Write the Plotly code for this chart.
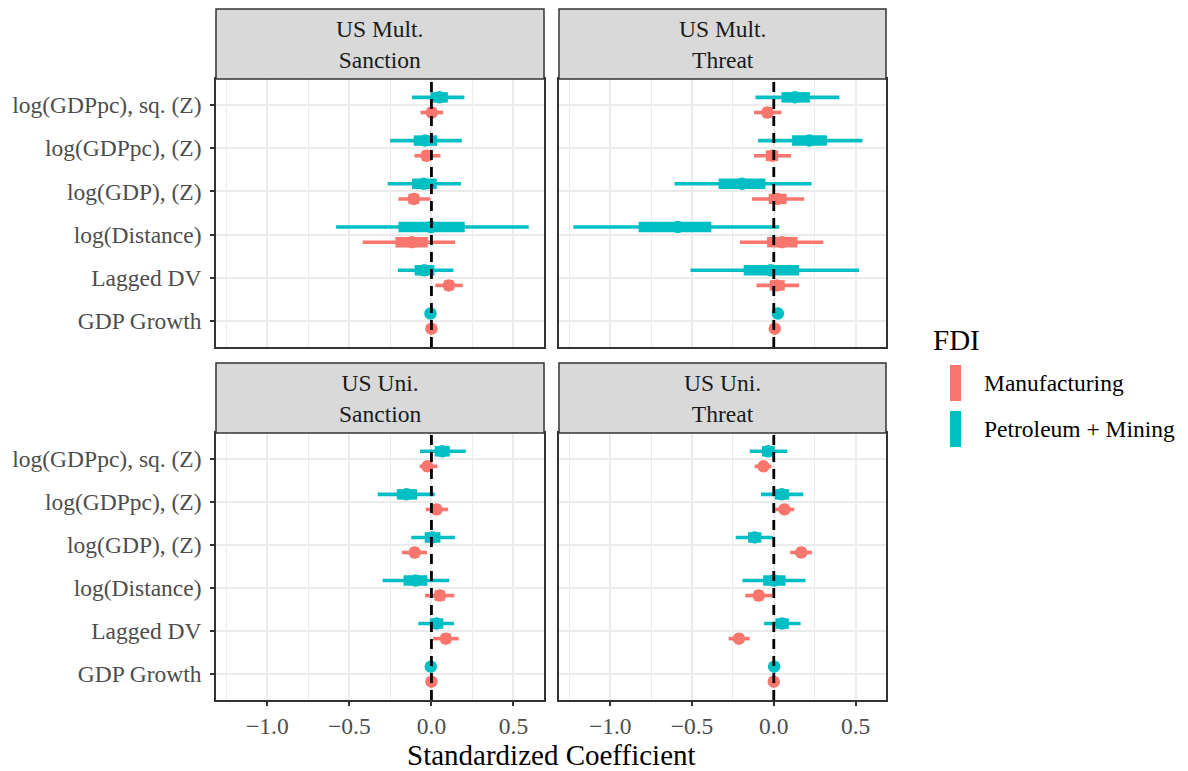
import plotly.graph_objects as go
from plotly.subplots import make_subplots

# Coefficient categories, listed bottom to top
CATEGORIES = ["GDP Growth", "Lagged DV", "log(Distance)",
              "log(GDP), (Z)", "log(GDPpc), (Z)", "log(GDPpc), sq. (Z)"]

FACETS = ["US Mult.<br>Sanction", "US Mult.<br>Threat",
          "US Uni.<br>Sanction", "US Uni.<br>Threat"]

SERIES = ["Manufacturing", "Petroleum + Mining"]

# ---- US Mult. Sanction ----
mult_sanc_petro_est = [-0.006, -0.043, -0.002, -0.047, -0.039, 0.049]
mult_sanc_petro_lo95 = [-0.012, -0.205, -0.581, -0.267, -0.252, -0.118]
mult_sanc_petro_hi95 = [0.000, 0.134, 0.593, 0.180, 0.185, 0.201]
mult_sanc_petro_lo50 = [-0.009, -0.102, -0.201, -0.118, -0.108, -0.006]
mult_sanc_petro_hi50 = [-0.003, 0.018, 0.203, 0.032, 0.035, 0.100]

mult_sanc_manu_est = [0.000, 0.106, -0.120, -0.108, -0.030, 0.002]
mult_sanc_manu_lo95 = [-0.005, 0.024, -0.419, -0.201, -0.104, -0.067]
mult_sanc_manu_hi95 = [0.005, 0.191, 0.144, -0.006, 0.055, 0.071]
mult_sanc_manu_lo50 = [-0.002, 0.078, -0.220, -0.140, -0.057, -0.022]
mult_sanc_manu_hi50 = [0.002, 0.135, -0.022, -0.075, 0.000, 0.026]

# ---- US Mult. Threat ----
mult_thr_petro_est = [0.025, -0.018, -0.587, -0.194, 0.217, 0.129]
mult_thr_petro_lo95 = [0.005, -0.509, -1.225, -0.607, -0.096, -0.112]
mult_thr_petro_hi95 = [0.045, 0.521, 0.033, 0.231, 0.542, 0.401]
mult_thr_petro_lo50 = [0.018, -0.184, -0.826, -0.337, 0.112, 0.047]
mult_thr_petro_hi50 = [0.032, 0.155, -0.382, -0.051, 0.325, 0.221]

mult_thr_manu_est = [0.006, 0.020, 0.051, 0.022, -0.010, -0.039]
mult_thr_manu_lo95 = [0.000, -0.106, -0.207, -0.133, -0.121, -0.121]
mult_thr_manu_hi95 = [0.012, 0.155, 0.303, 0.186, 0.106, 0.047]
mult_thr_manu_lo50 = [0.003, -0.025, -0.041, -0.031, -0.049, -0.067]
mult_thr_manu_hi50 = [0.009, 0.067, 0.145, 0.078, 0.027, -0.010]

# ---- US Uni. Sanction ----
uni_sanc_petro_est = [-0.004, 0.031, -0.096, 0.006, -0.151, 0.067]
uni_sanc_petro_lo95 = [-0.008, -0.080, -0.297, -0.123, -0.327, -0.070]
uni_sanc_petro_hi95 = [0.000, 0.137, 0.108, 0.143, 0.020, 0.209]
uni_sanc_petro_lo50 = [-0.006, -0.010, -0.170, -0.041, -0.211, 0.020]
uni_sanc_petro_hi50 = [-0.002, 0.072, -0.025, 0.055, -0.088, 0.112]

uni_sanc_manu_est = [0.000, 0.088, 0.051, -0.102, 0.031, -0.025]
uni_sanc_manu_lo95 = [-0.003, 0.010, -0.039, -0.180, -0.035, -0.072]
uni_sanc_manu_hi95 = [0.003, 0.166, 0.139, -0.027, 0.102, 0.037]
uni_sanc_manu_lo50 = [-0.001, 0.061, 0.020, -0.128, 0.008, -0.046]
uni_sanc_manu_hi50 = [0.001, 0.115, 0.082, -0.076, 0.054, -0.004]

# ---- US Uni. Threat ----
uni_thr_petro_est = [0.002, 0.051, 0.002, -0.117, 0.049, -0.035]
uni_thr_petro_lo95 = [-0.002, -0.059, -0.192, -0.233, -0.078, -0.147]
uni_thr_petro_hi95 = [0.006, 0.164, 0.194, -0.004, 0.180, 0.082]
uni_thr_petro_lo50 = [0.000, 0.010, -0.065, -0.157, 0.006, -0.072]
uni_thr_petro_hi50 = [0.004, 0.092, 0.072, -0.076, 0.094, 0.006]

uni_thr_manu_est = [0.000, -0.213, -0.092, 0.168, 0.065, -0.063]
uni_thr_manu_lo95 = [-0.003, -0.276, -0.174, 0.100, 0.008, -0.117]
uni_thr_manu_hi95 = [0.003, -0.147, -0.010, 0.233, 0.125, -0.014]
uni_thr_manu_lo50 = [-0.001, -0.235, -0.120, 0.145, 0.045, -0.082]
uni_thr_manu_hi50 = [0.001, -0.190, -0.064, 0.190, 0.085, -0.046]

X_TICKS = [-1.0, -0.5, 0.0, 0.5]
X_TICK_TEXT = ["\u22121.0", "\u22120.5", "0.0", "0.5"]

# ---- styling ----
COLORS = {"Manufacturing": "#F8766D", "Petroleum + Mining": "#00BFC4"}
DODGE = {"Manufacturing": -0.175, "Petroleum + Mining": 0.175}
FONT = "Liberation Serif"
W, H = 1188, 771

panel_data = [
    {"Manufacturing": (mult_sanc_manu_est, mult_sanc_manu_lo95, mult_sanc_manu_hi95, mult_sanc_manu_lo50, mult_sanc_manu_hi50),
     "Petroleum + Mining": (mult_sanc_petro_est, mult_sanc_petro_lo95, mult_sanc_petro_hi95, mult_sanc_petro_lo50, mult_sanc_petro_hi50)},
    {"Manufacturing": (mult_thr_manu_est, mult_thr_manu_lo95, mult_thr_manu_hi95, mult_thr_manu_lo50, mult_thr_manu_hi50),
     "Petroleum + Mining": (mult_thr_petro_est, mult_thr_petro_lo95, mult_thr_petro_hi95, mult_thr_petro_lo50, mult_thr_petro_hi50)},
    {"Manufacturing": (uni_sanc_manu_est, uni_sanc_manu_lo95, uni_sanc_manu_hi95, uni_sanc_manu_lo50, uni_sanc_manu_hi50),
     "Petroleum + Mining": (uni_sanc_petro_est, uni_sanc_petro_lo95, uni_sanc_petro_hi95, uni_sanc_petro_lo50, uni_sanc_petro_hi50)},
    {"Manufacturing": (uni_thr_manu_est, uni_thr_manu_lo95, uni_thr_manu_hi95, uni_thr_manu_lo50, uni_thr_manu_hi50),
     "Petroleum + Mining": (uni_thr_petro_est, uni_thr_petro_lo95, uni_thr_petro_hi95, uni_thr_petro_lo50, uni_thr_petro_hi50)},
]

# panel pixel boxes (left, right) / (top, bottom)
COL_X = [(216, 544), (559, 886)]
ROW_Y = [(79, 347), (433, 700)]
STRIP_H = 70


def px_x(v):
    return v / W


def px_y(v):
    return 1 - v / H


fig = make_subplots(rows=2, cols=2)

for i, pdata in enumerate(panel_data):
    r, c = divmod(i, 2)
    for s in SERIES:
        est, lo95, hi95, lo50, hi50 = pdata[s]
        ypos = [k + 1 + DODGE[s] for k in range(len(CATEGORIES))]
        thin_x, thin_y, thick_x, thick_y = [], [], [], []
        for k in range(len(CATEGORIES)):
            thin_x += [lo95[k], hi95[k], None]
            thin_y += [ypos[k], ypos[k], None]
            thick_x += [lo50[k], hi50[k], None]
            thick_y += [ypos[k], ypos[k], None]
        col = COLORS[s]
        fig.add_trace(go.Scatter(x=thin_x, y=thin_y, mode="lines",
                                 line=dict(color=col, width=3.6),
                                 showlegend=False, hoverinfo="skip"),
                      row=r + 1, col=c + 1)
        fig.add_trace(go.Scatter(x=thick_x, y=thick_y, mode="lines",
                                 line=dict(color=col, width=10.5),
                                 showlegend=False, hoverinfo="skip"),
                      row=r + 1, col=c + 1)
        fig.add_trace(go.Scatter(x=est, y=ypos, mode="markers",
                                 marker=dict(color=col, size=12.5,
                                             line=dict(width=0)),
                                 name=s, showlegend=False,
                                 text=CATEGORIES,
                                 hovertemplate="%{text}: %{x:.3f}<extra>" + s + "</extra>"),
                      row=r + 1, col=c + 1)

tick_font = dict(family=FONT, size=23.5, color="#4D4D4D")
axis_common = dict(showline=True, mirror=True, linecolor="#333333",
                   linewidth=1.5, zeroline=False, showgrid=True,
                   gridcolor="#EBEBEB", gridwidth=1.6, automargin=False)

shapes = []
annotations = []

for i in range(4):
    r, c = divmod(i, 2)
    suffix = "" if i == 0 else str(i + 1)
    x0, x1 = COL_X[c]
    y0, y1 = ROW_Y[r]
    xa = dict(axis_common,
              domain=[px_x(x0), px_x(x1)],
              range=[-1.313, 0.686],
              tickvals=X_TICKS, ticktext=X_TICK_TEXT,
              minor=dict(tickvals=[-1.25, -0.75, -0.25, 0.25], showgrid=True,
                         gridcolor="#EBEBEB", gridwidth=0.8, ticklen=0))
    if r == 1:
        xa.update(ticks="outside", ticklen=4, tickwidth=1.5,
                  tickcolor="#333333", showticklabels=True, tickfont=tick_font)
    else:
        xa.update(ticks="", showticklabels=False)
    ya = dict(axis_common,
              domain=[px_y(y1), px_y(y0)],
              range=[0.4, 6.6],
              tickvals=list(range(1, len(CATEGORIES) + 1)),
              ticktext=CATEGORIES)
    if c == 0:
        ya.update(ticks="outside", ticklen=4, tickwidth=1.5,
                  tickcolor="#333333", showticklabels=True, tickfont=tick_font,
                  ticklabelstandoff=4)
    else:
        ya.update(ticks="", showticklabels=False)
    fig.update_layout(**{"xaxis" + suffix: xa, "yaxis" + suffix: ya})

    # zero reference line
    shapes.append(dict(type="line", xref="x" + suffix, yref="y" + suffix + " domain",
                       x0=0, x1=0, y0=0, y1=1, layer="above",
                       line=dict(color="black", width=2.8, dash="10px,7px")))

    # facet strip
    shapes.append(dict(type="rect", xref="paper", yref="paper",
                       x0=px_x(x0), x1=px_x(x1),
                       y0=px_y(y0), y1=px_y(y0 - STRIP_H),
                       fillcolor="#D9D9D9", line=dict(color="#333333", width=1.5),
                       layer="above"))
    annotations.append(dict(text=FACETS[i], xref="paper", yref="paper",
                            x=px_x((x0 + x1) / 2), y=px_y(y0 - STRIP_H / 2),
                            xanchor="center", yanchor="middle", showarrow=False,
                            font=dict(family=FONT, size=23.5, color="#1A1A1A")))

# shared axis title
annotations.append(dict(text="Standardized Coefficient", xref="paper", yref="paper",
                        x=px_x((COL_X[0][0] + COL_X[1][1]) / 2), y=px_y(755),
                        xanchor="center", yanchor="middle", showarrow=False,
                        font=dict(family=FONT, size=29, color="black")))

# legend
annotations.append(dict(text="FDI", xref="paper", yref="paper",
                        x=px_x(931), y=px_y(340), xanchor="left", yanchor="middle",
                        showarrow=False, font=dict(family=FONT, size=29, color="black")))
legend_rows = [("Manufacturing", 365, 401), ("Petroleum + Mining", 411, 447)]
for name, top, bot in legend_rows:
    shapes.append(dict(type="rect", xref="paper", yref="paper",
                       x0=px_x(950), x1=px_x(961), y0=px_y(bot), y1=px_y(top),
                       fillcolor=COLORS[name], line=dict(width=0)))
    annotations.append(dict(text=name, xref="paper", yref="paper",
                            x=px_x(982), y=px_y((top + bot) / 2),
                            xanchor="left", yanchor="middle", showarrow=False,
                            font=dict(family=FONT, size=23.5, color="black")))

fig.update_layout(width=W, height=H, margin=dict(l=0, r=0, t=0, b=0),
                  plot_bgcolor="white", paper_bgcolor="white",
                  shapes=shapes, annotations=annotations,
                  font=dict(family=FONT), showlegend=False)

fig.write_html("out.html")
